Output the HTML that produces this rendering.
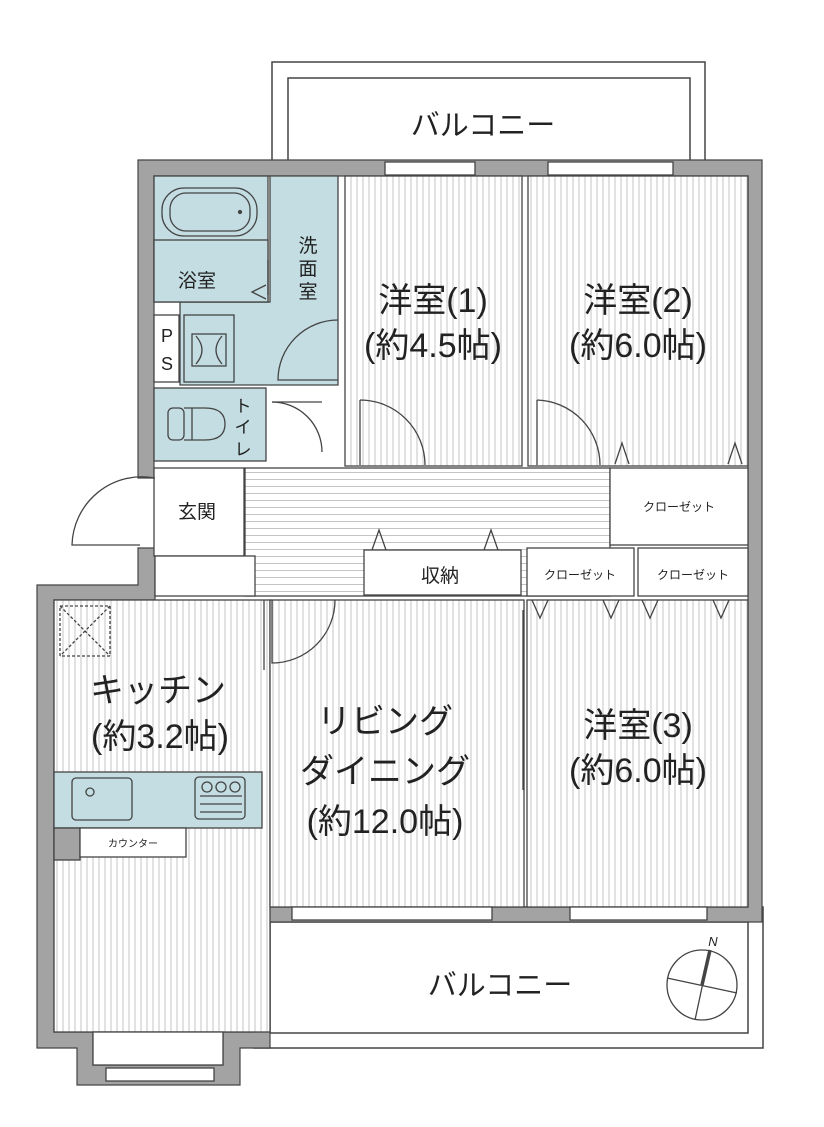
<!DOCTYPE html>
<html><head><meta charset="utf-8">
<style>
html,body{margin:0;padding:0;background:#fff;}
svg{display:block;}
text{font-family:"Liberation Sans","Noto Sans CJK JP",sans-serif;fill:#222;}
</style></head>
<body>
<svg width="824" height="1127" viewBox="0 0 824 1127" xmlns="http://www.w3.org/2000/svg">
<defs>
<pattern id="vs" width="6" height="10" patternUnits="userSpaceOnUse">
<rect width="6" height="10" fill="#fff"/><line x1="3" y1="0" x2="3" y2="10" stroke="#c4c4c4" stroke-width="1"/>
</pattern>
<pattern id="hs" width="10" height="7" patternUnits="userSpaceOnUse">
<rect width="10" height="7" fill="#fff"/><line x1="0" y1="3.5" x2="10" y2="3.5" stroke="#c4c4c4" stroke-width="1"/>
</pattern>
</defs>
<g stroke="#444" stroke-width="1.5" fill="none">
<rect x="272" y="62" width="433" height="100" fill="#fff"/>
<path d="M288 160 V78 H690 V160"/>
<rect x="254" y="907" width="509" height="141" fill="#fff"/>
<rect x="270" y="922" width="478" height="111" fill="#fff"/>
</g>
<g fill="#a3a3a3" stroke="#444" stroke-width="1.2">
<path d="M138 160 H762 V922 H270 V1048 H240 V1085 H77 V1048 H37 V585 H138 V548 H155 V600 H54 V1032 H93 V1065 H223 V1032 H254 V907 H748 V176 H154 V478 H138 Z"/>
</g>
<g stroke="#444" stroke-width="1.3">
<rect x="54" y="600" width="216" height="432" fill="url(#vs)"/>
<rect x="93" y="1032" width="130" height="33" fill="#fff"/>
<rect x="270" y="600" width="254" height="307" fill="url(#vs)"/>
<rect x="527" y="600" width="221" height="307" fill="url(#vs)"/>
<rect x="345" y="176" width="177" height="290" fill="url(#vs)"/>
<rect x="528" y="176" width="220" height="290" fill="url(#vs)"/>
<rect x="245" y="468" width="365" height="128" fill="url(#hs)"/>
<rect x="154" y="468" width="90" height="88" fill="#fff"/>
<rect x="155" y="556" width="100" height="40" fill="#fff"/>
<rect x="610" y="468" width="138" height="77" fill="#fff"/>
<rect x="527" y="548" width="107" height="48" fill="#fff"/>
<rect x="638" y="548" width="110" height="48" fill="#fff"/>
<rect x="364" y="550" width="157" height="45" fill="#fff"/>
<path d="M270 176 H338 V385 H180 V302 H270 Z" fill="#c3dde2"/>
<rect x="154" y="176" width="114" height="126" fill="#c3dde2"/>
<rect x="154" y="240" width="114" height="62" fill="#c3dde2"/>
<rect x="154" y="315" width="25" height="67" fill="#fff"/>
<rect x="184" y="315" width="50" height="67" fill="#c3dde2"/>
<rect x="154" y="388" width="112" height="73" fill="#c3dde2"/>
<rect x="54" y="772" width="208" height="56" fill="#c3dde2"/>
<rect x="54" y="828" width="26" height="32" fill="#a3a3a3"/>
<rect x="80" y="828" width="106" height="29" fill="#fff"/>
</g>
<g stroke="#444" stroke-width="1.3" fill="none">
<rect x="162" y="188" width="95" height="48" rx="22"/>
<rect x="170" y="193" width="80" height="38" rx="16"/>
<circle cx="240" cy="212" r="1.5" fill="#444"/>
<path d="M268 260 V295 M266 285 L252 292 L266 299"/>
<rect x="192" y="334" width="34" height="32"/>
<path d="M196 336 Q208 350 196 364 M222 336 Q210 350 222 364"/>
<rect x="168" y="408" width="16" height="32" rx="5"/>
<path d="M184 408 H205 Q225 408 225 424 Q225 440 205 440 H184"/>
<path d="M192 408 V440"/>
<rect x="72" y="778" width="60" height="42" rx="4"/>
<circle cx="90" cy="792" r="4"/>
<rect x="195" y="777" width="50" height="42" rx="4"/>
<path d="M200 796 H242 M200 804 H242 M200 812 H242"/>
<circle cx="207" cy="787" r="5"/><circle cx="221" cy="787" r="5"/><circle cx="235" cy="787" r="5"/>
<rect x="60" y="606" width="50" height="50" stroke-dasharray="3 2"/>
<path d="M60 606 L110 656 M110 606 L60 656" stroke-dasharray="3 2"/>
<path d="M155 478 A70 70 0 0 0 72 545 H140"/>
<path d="M338 320 A60 60 0 0 0 278 380 H338"/>
<path d="M272 402 A50 50 0 0 1 322 452"/>
<path d="M272 402 H322"/>
<path d="M360 400 A65 65 0 0 1 425 465 M360 400 V465"/>
<path d="M537 400 A65 65 0 0 1 600 465 M537 400 V465"/>
<path d="M272 600 V663 A63 63 0 0 0 335 600"/>
<path d="M264 600 V670"/>
<path d="M523 610 V790"/>
<path d="M615 464 L622 443 L629 464 M728 464 L735 443 L742 464"/>
<path d="M372 550 L379 530 L386 550 M484 550 L491 530 L498 550"/>
<path d="M532 600 L540 618 L548 600 M603 600 L611 618 L619 600 M642 600 L650 618 L658 600 M713 600 L721 618 L729 600"/>
<rect x="385" y="162" width="90" height="13" fill="#fff"/>
<rect x="548" y="162" width="125" height="13" fill="#fff"/>
<rect x="292" y="907" width="200" height="13" fill="#fff"/>
<rect x="570" y="907" width="137" height="13" fill="#fff"/>
<rect x="106" y="1068" width="108" height="13" fill="#fff"/>
<circle cx="702" cy="985" r="35"/>
<path d="M667 978 L737 993 M710 950 L695 1020"/>
<path d="M710 950 L702 985" stroke-width="3.5"/>
</g>
<text x="483" y="135" font-size="29" text-anchor="middle">バルコニー</text>
<text x="500" y="995" font-size="29" text-anchor="middle">バルコニー</text>
<text x="433" y="312" font-size="34" text-anchor="middle">洋室(1)</text>
<text x="433" y="357" font-size="34" text-anchor="middle">(約4.5帖)</text>
<text x="638" y="312" font-size="34" text-anchor="middle">洋室(2)</text>
<text x="638" y="357" font-size="34" text-anchor="middle">(約6.0帖)</text>
<text x="638" y="737" font-size="34" text-anchor="middle">洋室(3)</text>
<text x="638" y="782" font-size="34" text-anchor="middle">(約6.0帖)</text>
<text x="158" y="702" font-size="34" text-anchor="middle">キッチン</text>
<text x="160" y="748" font-size="34" text-anchor="middle">(約3.2帖)</text>
<text x="385" y="733" font-size="34" text-anchor="middle">リビング</text>
<text x="385" y="783" font-size="34" text-anchor="middle">ダイニング</text>
<text x="385" y="833" font-size="34" text-anchor="middle">(約12.0帖)</text>
<text x="197" y="287" font-size="19" text-anchor="middle">浴室</text>
<text x="308" y="252" font-size="19" text-anchor="middle">洗</text>
<text x="308" y="275" font-size="19" text-anchor="middle">面</text>
<text x="308" y="298" font-size="19" text-anchor="middle">室</text>
<text x="167" y="342" font-size="18" text-anchor="middle">P</text>
<text x="167" y="370" font-size="18" text-anchor="middle">S</text>
<text x="243" y="412" font-size="17" text-anchor="middle">ト</text>
<text x="243" y="433" font-size="17" text-anchor="middle">イ</text>
<text x="243" y="455" font-size="17" text-anchor="middle">レ</text>
<text x="197" y="518" font-size="19" text-anchor="middle">玄関</text>
<text x="440" y="582" font-size="19" text-anchor="middle">収納</text>
<text x="679" y="511" font-size="12" text-anchor="middle">クローゼット</text>
<text x="580" y="579" font-size="12" text-anchor="middle">クローゼット</text>
<text x="693" y="579" font-size="12" text-anchor="middle">クローゼット</text>
<text x="133" y="847" font-size="10" text-anchor="middle">カウンター</text>
<text x="713" y="946" font-size="13" text-anchor="middle" font-style="italic">N</text>
</svg>
</body></html>
